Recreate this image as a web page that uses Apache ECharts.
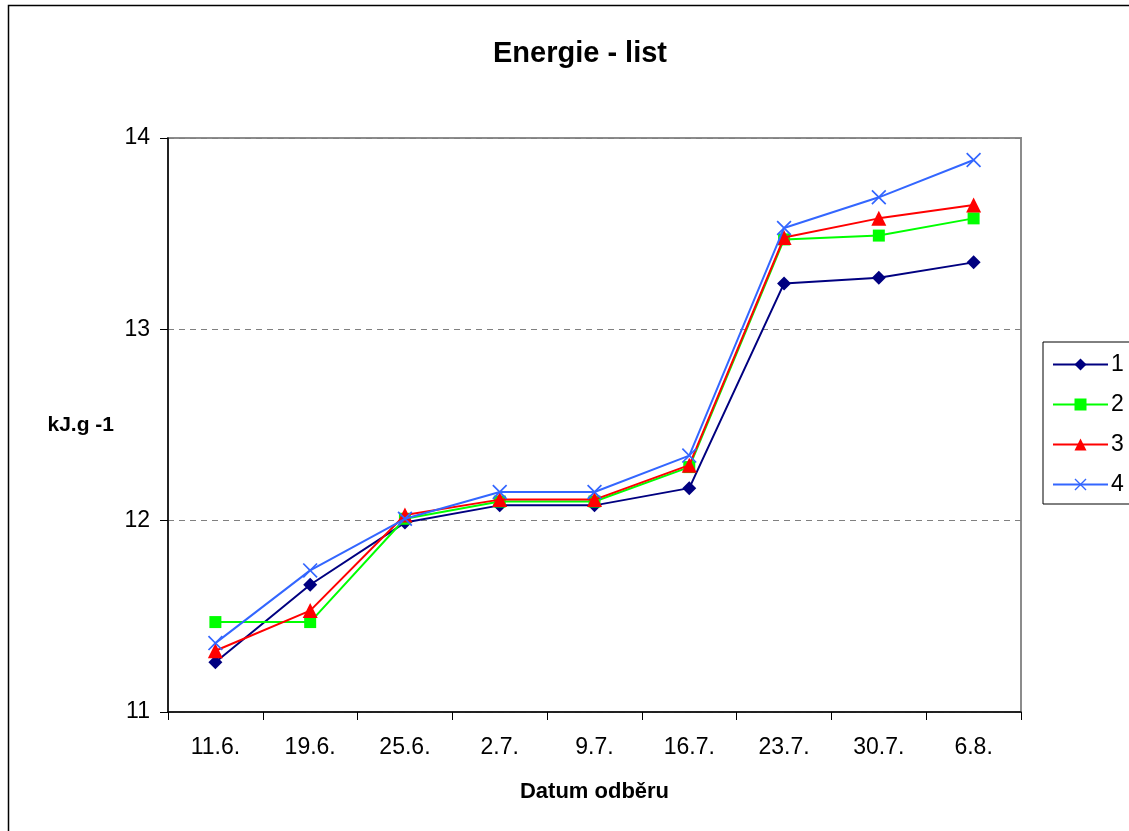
<!DOCTYPE html>
<html>
<head>
<meta charset="utf-8">
<title>Energie - list</title>
<script src="https://cdn.jsdelivr.net/npm/echarts@6/dist/echarts.min.js"></script>
<style>
  html, body { margin: 0; padding: 0; background: #fff; }
  #chart { width: 1129px; height: 831px; }
</style>
</head>
<body>
<div id="chart"></div>
<script>
// Sampling dates
const categories = ['11.6.', '19.6.', '25.6.', '2.7.', '9.7.', '16.7.', '23.7.', '30.7.', '6.8.'];

// Leaf energy content (kJ.g-1) for variants 1-4
const series1 = [11.26, 11.665, 11.99, 12.08, 12.08, 12.17, 13.24, 13.27, 13.35];
const series2 = [11.47, 11.47, 12.01, 12.10, 12.10, 12.28, 13.47, 13.49, 13.58];
const series3 = [11.32, 11.53, 12.03, 12.11, 12.11, 12.29, 13.48, 13.58, 13.65];
const series4 = [11.36, 11.74, 12.01, 12.15, 12.15, 12.34, 13.53, 13.69, 13.885];

const seriesNames = ['1', '2', '3', '4'];
const yTicks = [11, 12, 13, 14];

const FONT = '"Liberation Sans", Arial, sans-serif';

// filled X-shaped cross used as the marker of variant 4
const crossPath = 'path://M0,1.6L1.6,0L10,8.4L18.4,0L20,1.6L11.6,10L20,18.4L18.4,20L10,11.6L1.6,20L0,18.4L8.4,10Z';

const styles = [
  { color: '#000080', symbol: 'diamond', size: 14 },
  { color: '#00FF00', symbol: 'rect', size: 12 },
  { color: '#FF0000', symbol: 'triangle', size: 15 },
  { color: '#3366FF', symbol: crossPath, size: 15 }
];
const values = [series1, series2, series3, series4];

const chart = echarts.init(document.getElementById('chart'), null, { renderer: 'canvas' });

chart.setOption({
  backgroundColor: '#ffffff',
  animation: false,
  title: {
    text: 'Energie - list',
    left: 575,
    top: 34,
    textAlign: 'center',
    textStyle: { fontFamily: FONT, fontSize: 29, fontWeight: 'bold', color: '#000' }
  },
  graphic: [
    {
      type: 'rect',
      shape: { x: 8.5, y: 5.5, width: 1300, height: 1000 },
      style: { fill: 'none', stroke: '#000', lineWidth: 1.5 },
      silent: true,
      z: -10
    }
  ],
  legend: {
    orient: 'vertical',
    left: 1043,
    top: 342,
    padding: [11, 40, 8, 9],
    itemGap: 17,
    itemWidth: 55,
    itemHeight: 15,
    borderColor: '#000',
    borderWidth: 1,
    backgroundColor: '#fff',
    data: seriesNames,
    textStyle: { fontFamily: FONT, fontSize: 23, color: '#000', padding: [0, 0, 0, -2] }
  },
  grid: {
    left: 168,
    top: 138,
    width: 853,
    height: 574,
    show: true,
    borderColor: '#8c8c8c',
    borderWidth: 2,
    backgroundColor: '#fff'
  },
  xAxis: {
    type: 'category',
    data: categories,
    boundaryGap: true,
    name: 'Datum odběru',
    nameLocation: 'middle',
    nameGap: 69,
    nameTextStyle: { fontFamily: FONT, fontSize: 22, fontWeight: 'bold', color: '#000', verticalAlign: 'top' },
    axisLine: { show: true, lineStyle: { color: '#000', width: 1.5 } },
    axisTick: { show: true, alignWithLabel: false, length: 8, lineStyle: { color: '#000', width: 1 } },
    axisLabel: { fontFamily: FONT, fontSize: 23, color: '#000', margin: 24 },
    splitLine: { show: false }
  },
  yAxis: {
    type: 'value',
    min: yTicks[0],
    max: yTicks[yTicks.length - 1],
    interval: 1,
    name: 'kJ.g -1',
    nameLocation: 'middle',
    nameRotate: 0,
    nameGap: 54,
    nameTextStyle: { fontFamily: FONT, fontSize: 21, fontWeight: 'bold', color: '#000', align: 'right', verticalAlign: 'middle' },
    axisLine: { show: true, lineStyle: { color: '#000', width: 1.5 } },
    axisTick: { show: true, length: 8, lineStyle: { color: '#000', width: 1 } },
    axisLabel: { fontFamily: FONT, fontSize: 23, color: '#000', margin: 18 },
    splitLine: { show: true, lineStyle: { color: '#808080', type: [6, 5], width: 1 } }
  },
  series: values.map((vals, i) => ({
    name: seriesNames[i],
    type: 'line',
    data: vals,
    symbol: styles[i].symbol,
    symbolSize: styles[i].size,
    showAllSymbol: true,
    lineStyle: { color: styles[i].color, width: 2 },
    itemStyle: { color: styles[i].color },
    emphasis: { disabled: true },
    z: 2 + i
  }))
});
</script>
</body>
</html>
